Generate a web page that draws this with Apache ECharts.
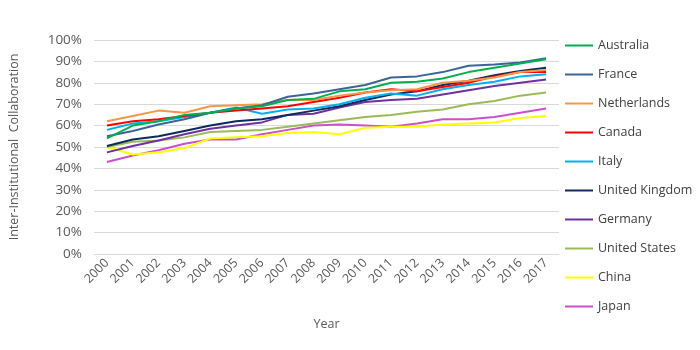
<!DOCTYPE html>
<html>
<head>
<meta charset="utf-8">
<script src="https://cdn.jsdelivr.net/npm/echarts@6/dist/echarts.min.js"></script>
<style>html,body{margin:0;padding:0;background:#fff}#c{width:700px;height:350px}</style>
</head>
<body>
<div id="c"></div>
<script>
var years = ['2000','2001','2002','2003','2004','2005','2006','2007','2008','2009','2010','2011','2012','2013','2014','2015','2016','2017'];
var australia     = [54, 60, 62, 65, 66, 68, 69, 72, 72.5, 76, 77, 80, 80.5, 82, 85, 87, 89, 91];
var france        = [55, 57.5, 60.5, 63, 66, 68, 69.5, 73.5, 75, 77, 79, 82.5, 83, 85, 88, 88.5, 89.5, 91.5];
var netherlands   = [62, 64.5, 67, 66, 69, 69.5, 70, 72, 72, 74, 75.5, 76.5, 77, 80, 81, 82.5, 85, 86];
var canada        = [60, 62, 63, 64.5, 66, 67, 68, 69, 71, 73, 75.5, 77, 76, 78, 80, 83, 85, 85];
var italy         = [58, 61, 62, 64, 66, 68.5, 65.5, 67.5, 68, 70, 73, 75, 74, 77, 79, 80.5, 83, 84];
var unitedKingdom = [50.5, 53.5, 55, 57.5, 60, 62, 63, 65, 67, 69, 72, 74.5, 76, 79, 81, 83.5, 85.5, 87];
var germany       = [47.5, 50.5, 53, 56, 58.5, 60, 61.5, 65, 65.5, 68.5, 71, 72, 72.5, 74.5, 76.5, 78.5, 80, 81.5];
var unitedStates  = [50, 52.5, 53, 54.5, 57, 57.5, 58, 59.5, 61, 62.5, 64, 65, 66.5, 67.5, 70, 71.5, 74, 75.5];
var china         = [50, 46.5, 47.5, 49.5, 54, 54.5, 55, 56.5, 57, 56, 59, 59.5, 59.5, 60.5, 61, 61.5, 63.5, 64.5];
var japan         = [43, 46, 48.5, 51.5, 53.5, 53.5, 56, 58, 60, 60.5, 60, 59.5, 61, 63, 63, 64, 66, 68];

var names  = ['Australia','France','Netherlands','Canada','Italy','United Kingdom','Germany','United States','China','Japan'];
var values = [australia, france, netherlands, canada, italy, unitedKingdom, germany, unitedStates, china, japan];
var colors = ['#00B050','#3E6497','#F79646','#FF0000','#00B0F0','#0E2A5C','#7030A0','#9BBB59','#FFFF00','#CC4FCC'];

var series = names.map(function(n, i){
  return {
    name: n, type: 'line', data: values[i], symbol: 'none', showSymbol: false,
    lineStyle: {width: 2, color: colors[i]}, itemStyle: {color: colors[i]},
    z: 10 - i
  };
});

var chart = echarts.init(document.getElementById('c'), null, {renderer: 'canvas'});
chart.setOption({
  animation: false,
  color: colors,
  textStyle: {fontFamily: 'Open Sans, Liberation Sans, sans-serif'},
  grid: {left: 89, right: 141, top: 40, bottom: 96},
  legend: {
    orient: 'vertical', left: 560, top: 34,
    itemWidth: 28, itemHeight: 2, itemGap: 16,
    icon: 'rect',
    textStyle: {fontSize: 12.5, color: '#404040'},
    data: names
  },
  xAxis: {
    type: 'category', data: years, boundaryGap: true,
    name: 'Year', nameLocation: 'middle', nameGap: 64,
    nameTextStyle: {fontSize: 12.5, color: '#595959'},
    axisLine: {lineStyle: {color: '#D9D9D9'}},
    axisTick: {show: false},
    axisLabel: {rotate: 45, fontSize: 12.5, color: '#595959', margin: 7, interval: 0}
  },
  yAxis: {
    type: 'value', min: 0, max: 100, interval: 10,
    name: 'Inter-Institutional  Collaboration', nameLocation: 'middle', nameGap: 73,
    nameTextStyle: {fontSize: 12.5, color: '#595959'},
    axisLine: {show: false}, axisTick: {show: false},
    axisLabel: {formatter: '{value}%', fontSize: 13.5, color: '#595959', margin: 12},
    splitLine: {lineStyle: {color: '#D9D9D9', width: 1}}
  },
  series: series
});
</script>
</body>
</html>
